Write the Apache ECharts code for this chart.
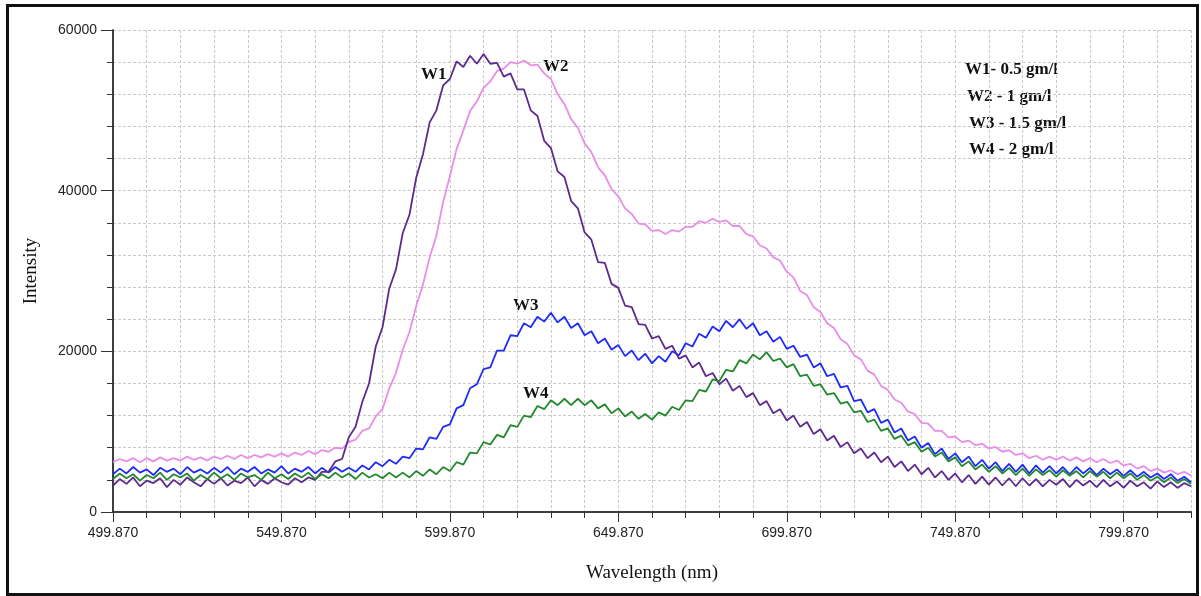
<!DOCTYPE html>
<html>
<head>
<meta charset="utf-8">
<title>Intensity vs wavelength</title>
<script src="https://cdn.jsdelivr.net/npm/echarts@6/dist/echarts.min.js"></script>
<style>
  body { margin: 0; background: #fff; }
  #chart { width: 1201px; height: 596px; }
</style>
</head>
<body>
<div id="chart"></div>
<script>
// wavelength of the first sample and the sample step (nm)
const wlStart = 499.87
const wlStep = 2

// intensities, one value every 2 nm from 499.87 to 819.87
const w1 = [
  3300, 4100, 3500, 4300, 3200, 3900, 3600, 4200, 3100, 4000,
  3400, 4300, 3700, 3200, 4100, 3500, 4200, 3300, 3900, 3600,
  4300, 3200, 4000, 3500, 4200, 3700, 3400, 4200, 3700, 4300,
  4000, 5000, 5000, 6300, 6600, 9300, 10600, 13700, 16000, 20600,
  23000, 27800, 30200, 34700, 37000, 41600, 44500, 48500, 50000, 53100,
  53900, 56100, 55400, 56800, 55800, 57000, 55800, 55900, 54200, 54600,
  52600, 52600, 50000, 49300, 46200, 45300, 42400, 41700, 38700, 37800,
  34800, 33900, 31100, 31000, 28400, 27900, 25700, 25500, 23400, 23300,
  21600, 21900, 20300, 20700, 19100, 19500, 18000, 18600, 16900, 17300,
  15900, 16600, 15100, 15700, 14300, 14800, 13300, 13800, 12300, 12800,
  11400, 12000, 10600, 11200, 9700, 10300, 8900, 9500, 8100, 8700,
  7300, 7900, 6700, 7400, 6200, 6900, 5600, 6300, 5100, 5900,
  4700, 5500, 4300, 5100, 4000, 4800, 3700, 4600, 3500, 4400,
  3400, 4300, 3300, 4200, 3200, 4200, 3300, 4100, 3200, 4000,
  3400, 4100, 3100, 4000, 3300, 3900, 3100, 4000, 3200, 3800,
  3000, 3900, 3200, 3700, 2900, 3800, 3100, 3700, 3000, 3600,
  3200
]
const w2 = [
  6200, 6600, 6300, 6700, 6200, 6700, 6300, 6800, 6400, 6700,
  6400, 6900, 6500, 6800, 6400, 6900, 6600, 7000, 6600, 7100,
  6700, 7100, 6800, 7200, 6900, 7300, 6900, 7400, 7100, 7600,
  7200, 7700, 7500, 8000, 7900, 8700, 9000, 10100, 10400, 11900,
  12800, 15400, 17300, 20200, 22400, 25600, 28300, 31700, 34400, 38600,
  41800, 45200, 47500, 49900, 51100, 52800, 53600, 54900, 55200, 56000,
  55800, 56200, 55600, 55700, 54600, 53900, 52000, 50800, 48900, 47800,
  45900, 44800, 42900, 41900, 40200, 39300, 37800, 37100, 35900, 35800,
  35000, 35100, 34600, 35100, 34900, 35500, 35500, 36200, 36000, 36500,
  36100, 36300, 35600, 35600, 34600, 34300, 33200, 32800, 31700, 31300,
  29900, 29200, 27500, 27000, 25500, 24900, 23500, 22900, 21500, 20900,
  19500, 19000, 17600, 17100, 15700, 15200, 14000, 13600, 12500, 12200,
  11100, 11000, 10100, 10100, 9300, 9400, 8700, 8900, 8300, 8500,
  7900, 8100, 7500, 7700, 7100, 7300, 6700, 7000, 6500, 6900,
  6500, 6900, 6400, 6800, 6300, 6700, 6200, 6600, 6100, 6400,
  5800, 6000, 5400, 5700, 5100, 5400, 4900, 5200, 4700, 5000,
  4500
]
const w3 = [
  4700, 5400, 4800, 5600, 4900, 5300, 4600, 5500, 5000, 5400,
  4700, 5600, 4900, 5300, 4800, 5500, 4900, 5600, 4700, 5400,
  5000, 5600, 4800, 5300, 4900, 5700, 4800, 5400, 5000, 5600,
  4800, 5500, 4900, 5600, 5000, 5500, 5000, 5800, 5300, 6200,
  5700, 6500, 6000, 6900, 6700, 7900, 7800, 9300, 9100, 10600,
  10900, 12900, 13300, 15400, 15900, 17800, 18000, 20100, 20100, 22000,
  21900, 23500, 23000, 24300, 23700, 24800, 23600, 24300, 22900, 23500,
  22000, 22500, 21000, 21600, 20200, 20800, 19400, 20100, 18900, 19700,
  18500, 19400, 18700, 20000, 19500, 21000, 20600, 22200, 21700, 23100,
  22500, 23800, 23000, 24000, 22800, 23500, 22000, 22500, 21200, 21800,
  20300, 20700, 19300, 19600, 18000, 18500, 16900, 17200, 15500, 15700,
  13800, 14000, 12400, 12800, 11100, 11500, 9900, 10400, 8900, 9400,
  8000, 8600, 7200, 7900, 6600, 7300, 6200, 6900, 5700, 6500,
  5400, 6200, 5100, 6000, 5000, 5900, 4800, 5800, 4900, 5700,
  4800, 5600, 4700, 5600, 4800, 5500, 4600, 5400, 4700, 5300,
  4500, 5200, 4400, 5000, 4300, 4800, 4100, 4700, 3900, 4400,
  3700
]
const w4 = [
  4100, 4800, 4200, 4700, 3900, 4600, 4200, 4900, 4000, 4700,
  4300, 4800, 3900, 4600, 4100, 4900, 4200, 4700, 4000, 4800,
  4300, 4600, 4000, 4900, 4200, 4700, 4100, 4800, 4300, 4900,
  4100, 4700, 4200, 4900, 4300, 4800, 4100, 4900, 4300, 4700,
  4200, 4900, 4300, 4900, 4300, 5100, 4500, 5300, 4700, 5600,
  5100, 6200, 5900, 7400, 7300, 8700, 8400, 9600, 9300, 10800,
  10600, 12000, 11800, 13200, 12800, 13900, 13300, 14100, 13300, 14100,
  13300, 13900, 12900, 13400, 12300, 12900, 11900, 12500, 11600, 12200,
  11500, 12400, 12000, 13100, 12700, 13900, 13800, 15200, 15000, 16500,
  16300, 17700, 17500, 18900, 18500, 19600, 19000, 19900, 18800, 19100,
  18000, 18400, 16900, 17100, 15700, 15900, 14600, 14800, 13500, 13700,
  12400, 12600, 11200, 11500, 10100, 10400, 9100, 9500, 8300, 8700,
  7500, 8000, 6900, 7400, 6300, 6800, 5700, 6300, 5300, 5900,
  5000, 5700, 4800, 5500, 4600, 5400, 4500, 5300, 4600, 5200,
  4400, 5200, 4500, 5100, 4300, 5100, 4400, 5000, 4200, 4900,
  4200, 4800, 4000, 4600, 3900, 4400, 3700, 4300, 3600, 4100,
  3500
]

// labelled wavelength ticks, as offsets from wlStart
const labelOffsets = [0, 50, 100, 150, 200, 250, 300]
const legendLines = ['W1- 0.5 gm/l', 'W2 - 1 gm/l', 'W3 - 1.5 gm/l', 'W4 - 2 gm/l']

const toPoints = arr => arr.map((v, i) => [i * wlStep, v])

const sansFont = 'Liberation Sans'
const serifFont = 'Liberation Serif'
const gridLine = { show: true, lineStyle: { color: '#c9c9c9', width: 1, type: [3, 2] } }
const frameLine = { show: true, lineStyle: { color: '#333', width: 1.5 } }

const chart = echarts.init(document.getElementById('chart'))

const lineSeries = (name, data, color) => ({
  name: name,
  type: 'line',
  data: toPoints(data),
  showSymbol: false,
  symbol: 'none',
  lineStyle: { color: color, width: 1.8 },
  itemStyle: { color: color },
  animation: false
})

const annot = (text, x, y) => ({
  type: 'text',
  x: x,
  y: y,
  style: { text: text, font: 'bold 17px "' + serifFont + '"', fill: '#111', verticalAlign: 'middle' }
})

// bare axes used only to draw the top and right edges of the plot box
const edgeAxis = pos => ({
  type: 'value', min: 0, max: pos === 'top' ? 320 : 60000, position: pos,
  axisLine: frameLine,
  axisTick: { show: false },
  axisLabel: { show: false },
  splitLine: { show: false }
})

const option = {
  animation: false,
  backgroundColor: '#fff',
  grid: { left: 113, right: 10, top: 30, bottom: 84 },
  xAxis: [
    {
      type: 'value', min: 0, max: 320, interval: 10, position: 'bottom',
      axisLine: frameLine,
      axisTick: { show: true, length: 6, lineStyle: { color: '#333' } },
      axisLabel: { show: false },
      splitLine: gridLine
    },
    {
      type: 'value', min: 0, max: 320, position: 'bottom',
      axisLine: { show: false },
      axisTick: { show: true, length: 10, lineStyle: { color: '#333' }, customValues: labelOffsets },
      axisLabel: {
        customValues: labelOffsets,
        margin: 14,
        fontFamily: sansFont, fontSize: 14, color: '#222',
        formatter: v => (v + wlStart).toFixed(3)
      },
      splitLine: { show: false },
      name: 'Wavelength (nm)',
      nameLocation: 'middle',
      nameGap: 52,
      nameTextStyle: { fontFamily: serifFont, fontSize: 19, color: '#111' }
    },
    edgeAxis('top')
  ],
  yAxis: [
    {
      type: 'value', min: 0, max: 60000, interval: 4000, position: 'left',
      axisLine: frameLine,
      axisTick: { show: true, length: 6, lineStyle: { color: '#333' } },
      axisLabel: { show: false },
      splitLine: gridLine
    },
    {
      type: 'value', min: 0, max: 60000, interval: 20000, position: 'left',
      axisLine: { show: false },
      axisTick: { show: true, length: 12, lineStyle: { color: '#333' } },
      axisLabel: {
        margin: 16, fontFamily: sansFont, fontSize: 14, color: '#222',
        formatter: v => String(v)
      },
      splitLine: { show: false },
      name: 'Intensity',
      nameLocation: 'middle',
      nameRotate: 90,
      nameGap: 72,
      nameTextStyle: { fontFamily: serifFont, fontSize: 19, color: '#111' }
    },
    edgeAxis('right')
  ],
  series: [
    lineSeries('W2', w2, '#e88de8'),
    lineSeries('W3', w3, '#1f2cf5'),
    lineSeries('W1', w1, '#5e2a8e'),
    lineSeries('W4', w4, '#23882c')
  ],
  graphic: [
    {
      type: 'rect',
      shape: { x: 7.5, y: 5.5, width: 1190, height: 589 },
      style: { fill: 'none', stroke: '#111', lineWidth: 3 },
      silent: true
    },
    annot('W1', 421, 75),
    annot('W2', 543, 67),
    annot('W3', 513, 306),
    annot('W4', 523, 394),
    annot(legendLines[0], 965, 70),
    annot(legendLines[1], 967, 97),
    annot(legendLines[2], 969, 124),
    annot(legendLines[3], 969, 150)
  ]
}

chart.setOption(option)
</script>
</body>
</html>
